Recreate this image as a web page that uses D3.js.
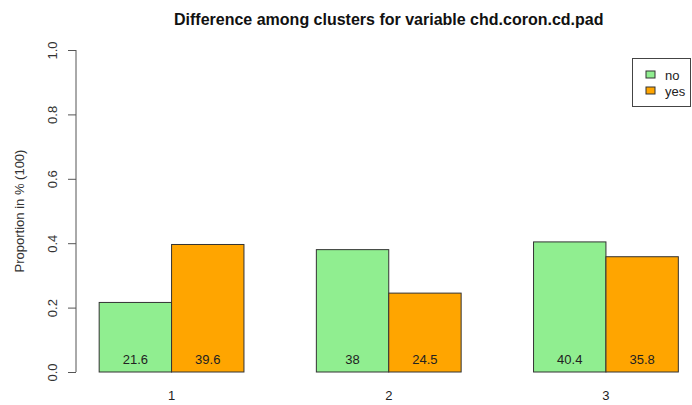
<!DOCTYPE html>
<html>
<head>
<meta charset="utf-8">
<script src="https://cdn.jsdelivr.net/npm/d3@7"></script>
<style>
  body { margin: 0; background: #fff; }
  text { font-family: "Liberation Sans", Arial, sans-serif; }
</style>
</head>
<body>
<svg width="692" height="405"></svg>
<script>
// data
const clusters = ["1", "2", "3"];
const groups = ["no", "yes"];
const noValues = [0.216, 0.380, 0.404];
const yesValues = [0.396, 0.245, 0.358];
const yTicks = [0, 0.2, 0.4, 0.6, 0.8, 1.0];
const colors = ["#90EE90", "#FFA500"];

const svg = d3.select("svg");
const rows = clusters.map((c, i) => ({cluster: c, values: [noValues[i], yesValues[i]]}));

// barplot units like R: each group = 2 bars + 1 space, xlim [1, 9] padded 4%
const x = d3.scaleLinear().domain([0.68, 9.32]).range([76, 701.5]);
const y = d3.scaleLinear().domain([0, 1]).range([372, 50]);

const bars = svg.append("g");
rows.forEach((row, i) => {
  const start = 1 + i * 3;
  row.values.forEach((v, j) => {
    bars.append("rect")
      .attr("x", x(start + j))
      .attr("y", y(v))
      .attr("width", x(start + j + 1) - x(start + j))
      .attr("height", y(0) - y(v))
      .attr("fill", colors[j])
      .attr("stroke", "#333")
      .attr("stroke-width", 1);
    bars.append("text")
      .attr("x", x(start + j + 0.5))
      .attr("y", 364)
      .attr("text-anchor", "middle")
      .attr("font-size", 13)
      .attr("fill", "#222")
      .text(+(v * 100).toFixed(1));
  });
  svg.append("text")
    .attr("x", x(start + 1))
    .attr("y", 400)
    .attr("text-anchor", "middle")
    .attr("font-size", 13)
    .attr("fill", "#222")
    .text(row.cluster);
});

// y axis
const yAxis = svg.append("g")
  .attr("transform", "translate(76,0)")
  .call(d3.axisLeft(y).tickValues(yTicks).tickFormat(d3.format(".1f")).tickSize(8));
yAxis.select(".domain").attr("stroke", "#555").attr("d", `M0,${y(0)}V${y(1)}`);
yAxis.selectAll(".tick line").attr("stroke", "#555");
yAxis.selectAll(".tick text")
  .attr("font-size", 13)
  .attr("fill", "#333")
  .attr("text-anchor", "middle")
  .attr("x", 0).attr("y", 0).attr("dy", "0.35em")
  .attr("transform", "translate(-24,0) rotate(-90)");

svg.append("text")
  .attr("transform", `translate(24,${(y(0) + y(1)) / 2}) rotate(-90)`)
  .attr("text-anchor", "middle")
  .attr("font-size", 13)
  .attr("fill", "#333")
  .text("Proportion in % (100)");

// title
svg.append("text")
  .attr("x", (x.range()[0] + x.range()[1]) / 2)
  .attr("y", 25)
  .attr("text-anchor", "middle")
  .attr("font-size", 16)
  .attr("font-weight", "bold")
  .attr("fill", "#111")
  .text("Difference among clusters for variable chd.coron.cd.pad");

// legend
const legend = svg.append("g");
legend.append("rect")
  .attr("x", 632.5).attr("y", 58.5).attr("width", 58).attr("height", 48)
  .attr("fill", "#fff").attr("stroke", "#444");
groups.forEach((g, i) => {
  legend.append("rect")
    .attr("x", 646).attr("y", 71 + i * 16).attr("width", 9).attr("height", 7)
    .attr("fill", colors[i]).attr("stroke", "#333");
  legend.append("text")
    .attr("x", 665).attr("y", 75 + i * 16).attr("dy", "0.35em")
    .attr("font-size", 13).attr("fill", "#222")
    .text(g);
});
</script>
</body>
</html>
